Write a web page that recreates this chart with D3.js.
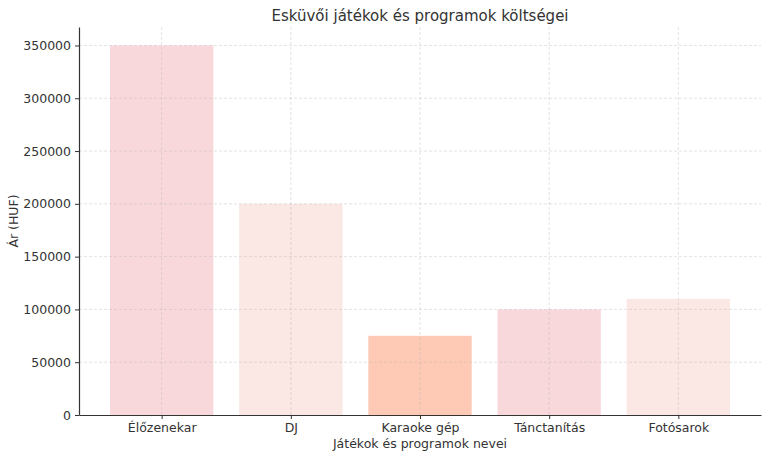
<!DOCTYPE html>
<html><head><meta charset="utf-8">
<script src="https://cdn.jsdelivr.net/npm/d3@7"></script>
<style>body{margin:0;background:#fff}svg{display:block;font-family:"DejaVu Sans",sans-serif}</style>
</head><body><svg id="c" width="768" height="458"></svg>
<script>
const categories = ["Élőzenekar", "DJ", "Karaoke gép", "Tánctanítás", "Fotósarok"];
const values = [350000, 200000, 75000, 100000, 110000];
const colors = ["#f9d8dc", "#fbe7e4", "#ffcab5", "#f9d8dc", "#fbe7e4"];
const yTicks = [0, 50000, 100000, 150000, 200000, 250000, 300000, 350000];

const svg = d3.select("#c");
const m = {l:79, r:761, t:27, b:415};
const x = d3.scaleLinear().domain([-0.64, categories.length - 1 + 0.64]).range([m.l, m.r]);
const y = d3.scaleLinear().domain([0, 367500]).range([m.b, m.t]);
const bw = x(0.8) - x(0);

svg.append("g").selectAll("rect").data(values).join("rect")
  .attr("x", (d,i) => x(i) - bw/2).attr("width", bw)
  .attr("y", d => y(d)).attr("height", d => y(0) - y(d))
  .attr("fill", (d,i) => colors[i]);

const grid = svg.append("g").attr("stroke", "#b0b0b0").attr("stroke-opacity", 0.45)
  .attr("stroke-dasharray", "3,2").attr("stroke-width", 0.8);
grid.selectAll("line.h").data(yTicks.slice(1)).join("line")
  .attr("x1", m.l).attr("x2", m.r).attr("y1", d => y(d)).attr("y2", d => y(d));
grid.selectAll("line.v").data(categories).join("line")
  .attr("y1", m.t).attr("y2", m.b).attr("x1", (d,i) => x(i)).attr("x2", (d,i) => x(i));

const yAxis = svg.append("g").attr("transform", `translate(${m.l},0)`)
  .call(d3.axisLeft(y).tickValues(yTicks).tickFormat(d3.format("d")).tickSize(4).tickPadding(4).tickSizeOuter(0));
const xAxis = svg.append("g").attr("transform", `translate(0,${m.b})`)
  .call(d3.axisBottom(x).tickValues(d3.range(categories.length)).tickFormat(i => categories[i]).tickSize(4).tickPadding(4).tickSizeOuter(0));
[yAxis, xAxis].forEach(a => {
  a.selectAll("text").attr("font-size", 12.5).attr("fill", "#333").attr("font-family", "DejaVu Sans");
  a.selectAll("line").attr("stroke", "#333");
  a.select(".domain").attr("stroke", "#333").attr("stroke-width", 1.2);
});

svg.append("text").attr("x", (m.l + m.r)/2).attr("y", 21).attr("text-anchor", "middle")
  .attr("font-size", 15).attr("fill", "#333").text("Esküvői játékok és programok költségei");
svg.append("text").attr("x", (m.l + m.r)/2).attr("y", 448).attr("text-anchor", "middle")
  .attr("font-size", 12.5).attr("fill", "#333").text("Játékok és programok nevei");
svg.append("text").attr("transform", `translate(18,${(m.t + m.b)/2}) rotate(-90)`).attr("text-anchor", "middle")
  .attr("font-size", 12.5).attr("fill", "#333").text("Ár (HUF)");
</script></body></html>
